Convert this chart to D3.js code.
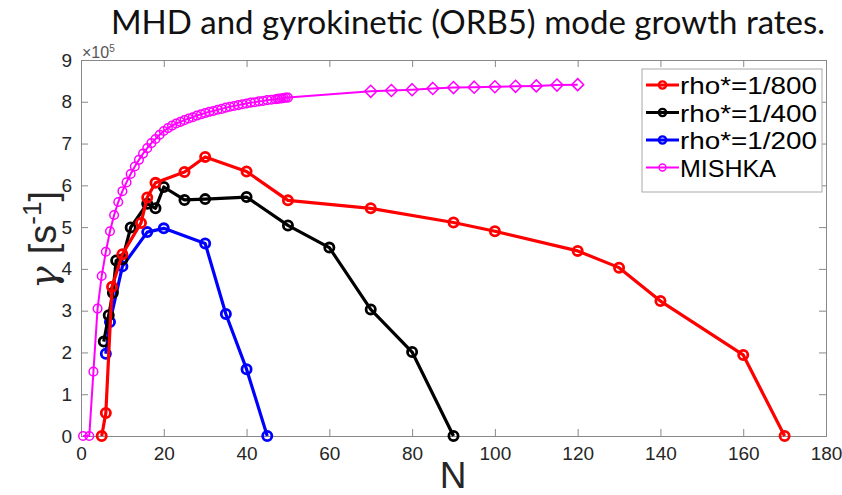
<!DOCTYPE html>
<html>
<head>
<meta charset="utf-8">
<script src="https://cdn.jsdelivr.net/npm/d3@7/dist/d3.min.js"></script>
<style>
  body { margin: 0; background: #fff; }
  svg { display: block; }
</style>
</head>
<body>
<div id="chart"></div>
<script>
// growth rates, units of 1e5 s^-1
const redN = [5, 6, 7.5, 10, 14.5, 16, 18, 25, 30, 40, 50, 70, 90, 100, 120, 130, 140, 160, 170];
const redG = [0, 0.55, 3.57, 4.35, 5.1, 5.71, 6.06, 6.32, 6.68, 6.33, 5.64, 5.45, 5.11, 4.9, 4.43, 4.03, 3.23, 1.94, 0];

const blackN = [5.5, 6.7, 7.7, 8.5, 10, 12, 16, 18, 20, 25, 30, 40, 50, 60, 70, 80, 90];
const blackG = [2.26, 2.89, 3.43, 4.2, 4.23, 4.99, 5.56, 5.45, 5.96, 5.65, 5.67, 5.72, 5.04, 4.51, 3.03, 2.01, 0];

const blueN = [6, 7, 10, 16, 20, 30, 35, 40, 45];
const blueG = [1.97, 2.73, 4.06, 4.88, 4.97, 4.61, 2.92, 1.6, 0];

// MISHKA: circles up to N=50, diamonds from 70
const mishkaN = [0.5, 2, 3, 4, 5, 6, 7, 8, 9, 10, 11, 12, 13, 14, 15, 16, 17, 18, 19, 20,
  21, 22, 23, 24, 25, 26, 27, 28, 29, 30, 31, 32, 33, 34, 35, 36, 37, 38, 39, 40,
  41, 42, 43, 44, 45, 46, 47, 47.5, 48, 48.5, 49, 49.5, 50];
const mishkaG = [0, 0, 1.54, 3.05, 3.83, 4.41, 4.9, 5.29, 5.6, 5.86, 6.07, 6.27, 6.45, 6.61, 6.76, 6.89, 7.01, 7.11, 7.21, 7.3,
  7.37, 7.43, 7.48, 7.52, 7.56, 7.6, 7.63, 7.67, 7.7, 7.73, 7.76, 7.78, 7.81, 7.83, 7.86, 7.88, 7.9, 7.92, 7.94, 7.96,
  7.98, 7.99, 8.01, 8.02, 8.04, 8.05, 8.06, 8.07, 8.08, 8.08, 8.09, 8.1, 8.1];
const mishkaHiN = [70, 75, 80, 85, 90, 95, 100, 105, 110, 115, 120];
const mishkaHiG = [8.25, 8.27, 8.29, 8.32, 8.34, 8.35, 8.36, 8.37, 8.38, 8.4, 8.41];

const xTicks = [0, 20, 40, 60, 80, 100, 120, 140, 160, 180];
const yTicks = [0, 1, 2, 3, 4, 5, 6, 7, 8, 9];
const legendLabels = ["rho*=1/800", "rho*=1/400", "rho*=1/200", "MISHKA"];

const W = 842, H = 495;
const mLeft = 81, mRight = 826, mTop = 60, mBottom = 436;
const axisColor = "#262626";
const font = "'Liberation Sans', Arial, sans-serif";

const svg = d3.select("#chart").append("svg")
    .attr("width", W)
    .attr("height", H);

const x = d3.scaleLinear().domain([0, 180]).range([mLeft, mRight]);
const y = d3.scaleLinear().domain([0, 9]).range([mBottom, mTop]);

// title
svg.append("text")
    .attr("x", 468).attr("y", 34)
    .attr("text-anchor", "middle")
    .attr("font-family", "Lato, 'Open Sans', sans-serif")
    .attr("font-size", 33)
    .attr("fill", "#111")
    .text("MHD and gyrokinetic (ORB5) mode growth rates.");

// axes with inward ticks on all four sides
const tickLen = 7;
svg.append("g")
    .attr("transform", "translate(0," + mBottom + ")")
    .call(d3.axisBottom(x).tickValues(xTicks).tickSize(-tickLen).tickPadding(tickLen + 4));
svg.append("g")
    .attr("transform", "translate(0," + mTop + ")")
    .call(d3.axisTop(x).tickValues(xTicks).tickSize(-tickLen).tickFormat(""));
svg.append("g")
    .attr("transform", "translate(" + mLeft + ",0)")
    .call(d3.axisLeft(y).tickValues(yTicks).tickSize(-tickLen).tickPadding(tickLen + 2));
svg.append("g")
    .attr("transform", "translate(" + mRight + ",0)")
    .call(d3.axisRight(y).tickValues(yTicks).tickSize(-tickLen).tickFormat(""));

svg.selectAll(".domain").attr("stroke", "#888");
svg.selectAll(".tick line").attr("stroke", "#888");
svg.selectAll(".tick text")
    .attr("font-family", font)
    .attr("font-size", 19)
    .attr("fill", axisColor);

// exponent
const ex = svg.append("text")
    .attr("x", 82).attr("y", 58)
    .attr("font-family", font)
    .attr("font-size", 16)
    .attr("fill", "#555");
ex.append("tspan").text("\u00d710");
ex.append("tspan").attr("dy", -6).attr("font-size", 10).text("5");

// axis labels
svg.append("text")
    .attr("x", 453).attr("y", 488)
    .attr("text-anchor", "middle")
    .attr("font-family", font)
    .attr("font-size", 37)
    .attr("fill", axisColor)
    .text("N");

const yl = svg.append("text")
    .attr("transform", "translate(56,240) rotate(-90)")
    .attr("text-anchor", "middle")
    .attr("font-family", font)
    .attr("font-size", 38)
    .attr("fill", axisColor);
yl.append("tspan").attr("font-family", "'DejaVu Serif', serif").attr("font-style", "italic").text("\u03b3 ");
yl.append("tspan").text("[s");
yl.append("tspan").attr("dy", -15).attr("font-size", 26).text("-1");
yl.append("tspan").attr("dy", 15).text("]");

const line = d3.line().x(d => x(d[0])).y(d => y(d[1]));
const plot = svg.append("g");

function drawSeries(N, G, color) {
    const pts = d3.zip(N, G);
    plot.append("path")
        .datum(pts)
        .attr("fill", "none")
        .attr("stroke", color)
        .attr("stroke-width", 3.2)
        .attr("stroke-linejoin", "round")
        .attr("d", line);
    plot.selectAll(null)
        .data(pts)
        .enter().append("circle")
        .attr("cx", d => x(d[0]))
        .attr("cy", d => y(d[1]))
        .attr("r", 4.6)
        .attr("fill", "none")
        .attr("stroke", color)
        .attr("stroke-width", 2.8);
}

// MISHKA
const mishkaAll = d3.zip(mishkaN.concat(mishkaHiN), mishkaG.concat(mishkaHiG));
plot.append("path")
    .datum(mishkaAll)
    .attr("fill", "none")
    .attr("stroke", "#ff00ff")
    .attr("stroke-width", 2)
    .attr("d", line);
plot.selectAll(null)
    .data(d3.zip(mishkaN, mishkaG))
    .enter().append("circle")
    .attr("cx", d => x(d[0]))
    .attr("cy", d => y(d[1]))
    .attr("r", 4.3)
    .attr("fill", "none")
    .attr("stroke", "#ff00ff")
    .attr("stroke-width", 1.5);
plot.selectAll(null)
    .data(d3.zip(mishkaHiN, mishkaHiG))
    .enter().append("path")
    .attr("transform", d => "translate(" + x(d[0]) + "," + y(d[1]) + ")")
    .attr("d", "M0,-6L6,0L0,6L-6,0Z")
    .attr("fill", "none")
    .attr("stroke", "#ff00ff")
    .attr("stroke-width", 1.5);

drawSeries(blueN, blueG, "#0000ff");
drawSeries(blackN, blackG, "#000000");
drawSeries(redN, redG, "#ff0000");

// legend
const colors = ["#ff0000", "#000000", "#0000ff", "#ff00ff"];
const lg = svg.append("g");
lg.append("rect")
    .attr("x", 642).attr("y", 69)
    .attr("width", 180).attr("height", 123)
    .attr("fill", "#fff")
    .attr("stroke", "#aaa")
    .attr("stroke-width", 1);
legendLabels.forEach((lab, i) => {
    const cy = 85 + i * 27.5;
    const thin = i === 3;
    lg.append("line")
        .attr("x1", 646).attr("x2", 679)
        .attr("y1", cy).attr("y2", cy)
        .attr("stroke", colors[i])
        .attr("stroke-width", thin ? 2 : 3.2);
    lg.append("circle")
        .attr("cx", 662.5).attr("cy", cy)
        .attr("r", thin ? 3.5 : 3.6)
        .attr("fill", "none")
        .attr("stroke", colors[i])
        .attr("stroke-width", thin ? 1.4 : 2.4);
    lg.append("text")
        .attr("x", 680).attr("y", cy + 9)
        .attr("font-family", font)
        .attr("font-size", 24)
        .attr("textLength", i === 3 ? 96 : 137)
        .attr("lengthAdjust", "spacingAndGlyphs")
        .attr("fill", "#000")
        .text(lab);
});
</script>
</body>
</html>
